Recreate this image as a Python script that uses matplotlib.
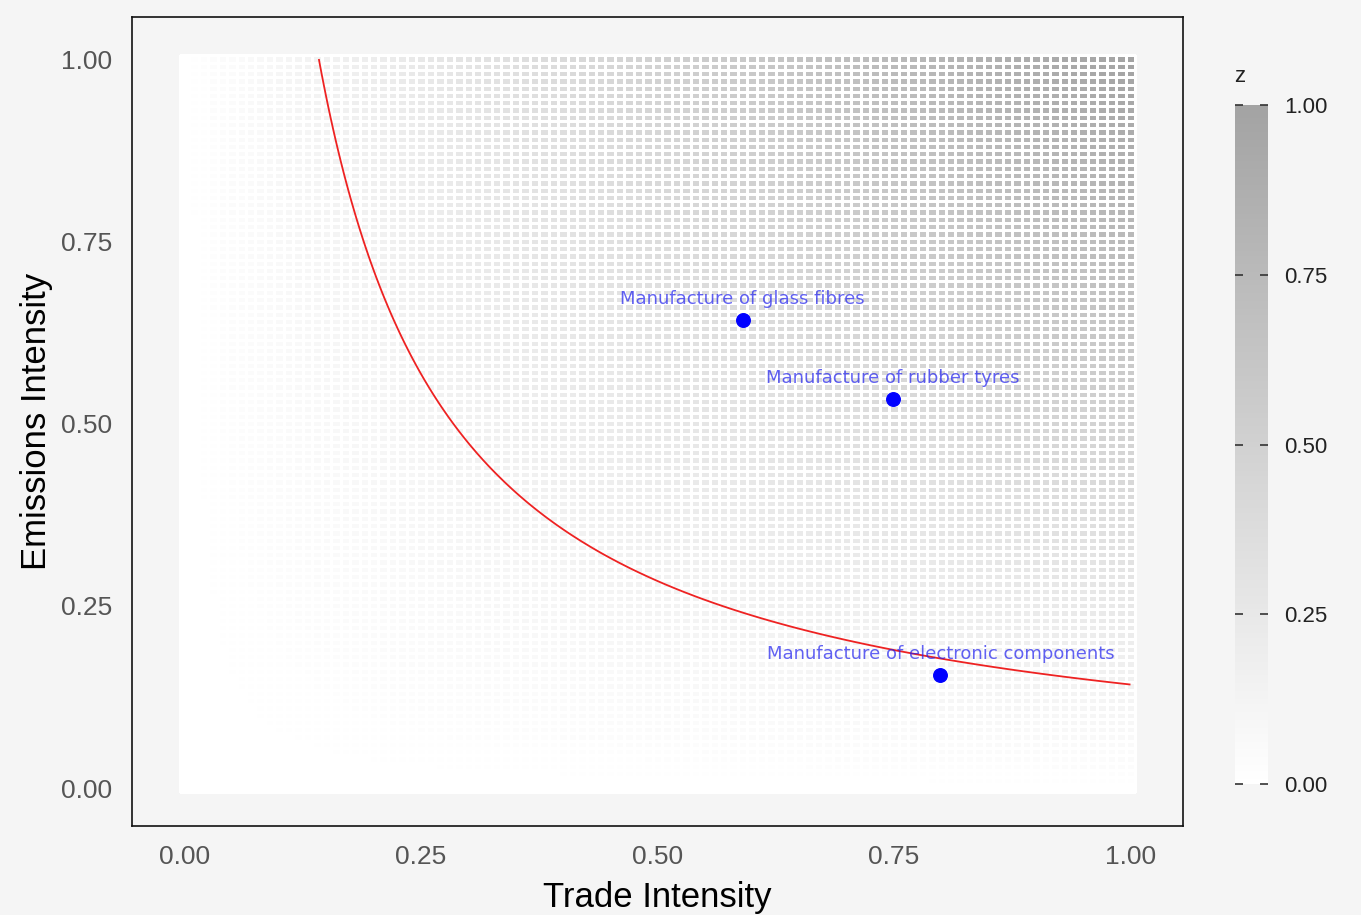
import numpy as np
import matplotlib
matplotlib.use("Agg")
import matplotlib.pyplot as plt
from matplotlib.colors import LinearSegmentedColormap

# grid of trade / emissions intensity, z = product
trade_grid = np.round(np.arange(0, 1.0001, 0.01), 2)
emis_grid = np.round(np.arange(0, 1.0001, 0.01), 2)
threshold = 0.142

sectors = ["Manufacture of glass fibres",
           "Manufacture of rubber tyres",
           "Manufacture of electronic components"]
sector_trade = [0.59, 0.749, 0.799]
sector_emis = [0.642, 0.534, 0.155]

bg = "#f5f5f5"
plt.rcParams["font.family"] = ["Liberation Sans", "DejaVu Sans"]

fig = plt.figure(figsize=(13.61, 9.15), dpi=100, facecolor=bg)
ax = fig.add_axes([0.0970, 0.0973, 0.7722, 0.8841])
ax.set_facecolor(bg)

X, Y = np.meshgrid(trade_grid, emis_grid)
Z = X * Y
xe = np.concatenate([trade_grid - 0.005, [trade_grid[-1] + 0.005]])
ye = np.concatenate([emis_grid - 0.005, [emis_grid[-1] + 0.005]])
cmap = LinearSegmentedColormap.from_list("wg", ["#ffffff", "#a3a3a3"])
mesh = ax.pcolormesh(xe, ye, Z, cmap=cmap, vmin=0, vmax=1,
                     edgecolors="white", linewidth=0.85)

# red line where z hits the threshold
ax.contour(X, Y, Z, levels=[threshold], colors="#ee2222", linewidths=1.3)

ax.scatter(sector_trade, sector_emis, s=95, color="blue", zorder=5)
for name, tx, ey in zip(sectors, sector_trade, sector_emis):
    ax.text(tx, ey + 0.029, name, ha="center", va="center", color="#2020ee",
            alpha=0.7, fontsize=13, family="DejaVu Sans", zorder=6)

ax.set_xlim(-0.0555, 1.0555)
ax.set_ylim(-0.052, 1.0576)
ticks = [0, 0.25, 0.5, 0.75, 1.0]
ax.set_xticks(ticks)
ax.set_yticks(ticks)
ax.set_xticklabels([f"{t:.2f}" for t in ticks])
ax.set_yticklabels([f"{t:.2f}" for t in ticks])
ax.tick_params(length=0, pad=14, labelsize=19, labelcolor="#555555")
for s in ax.spines.values():
    s.set_linewidth(1.2)
    s.set_color("#111111")

ax.set_xlabel("Trade Intensity", fontsize=25, labelpad=8)
ax.set_ylabel("Emissions Intensity", fontsize=25, labelpad=6)

cax = fig.add_axes([0.9074, 0.1432, 0.0242, 0.742])
cb = fig.colorbar(mesh, cax=cax, ticks=ticks)
cb.outline.set_visible(False)
cb.ax.set_yticklabels([f"{t:.2f}" for t in ticks])
cb.ax.tick_params(direction="in", left=True, right=True, length=6,
                  width=1.2, color="#333333", labelsize=16,
                  labelcolor="#222222", pad=12)
fig.text(1240 / 1361, 1 - 77 / 915, "z", fontsize=16, ha="center",
         va="center", color="#222222")

fig.savefig("out.png", dpi=100, facecolor=bg)
